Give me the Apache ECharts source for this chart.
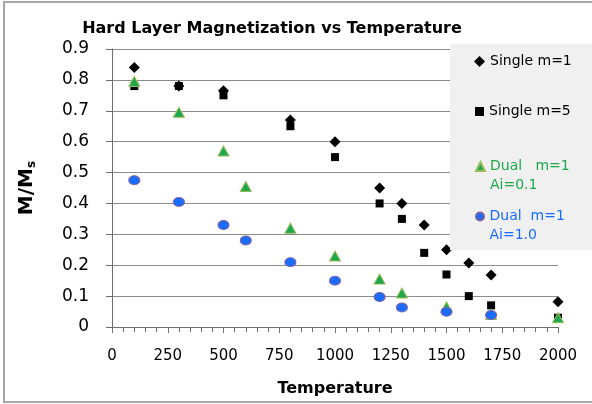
<!DOCTYPE html>
<html>
<head>
<meta charset="utf-8">
<script src="https://cdn.jsdelivr.net/npm/echarts@6/dist/echarts.min.js"></script>
<style>
html,body{margin:0;padding:0;background:#fff;}
#main{width:592px;height:404px;}
</style>
</head>
<body>
<div id="main"></div>
<script>
// 温度点
var singleTemps=[100,300,500,800,1000,1200,1300,1400,1500,1600,1700,2000];
var singleM1=[0.84,0.78,0.765,0.67,0.60,0.45,0.40,0.33,0.25,0.207,0.168,0.082];
var singleM5=[0.78,0.78,0.75,0.65,0.55,0.40,0.35,0.24,0.17,0.10,0.07,0.03];
var dualTempsA=[100,300,500,600,800,1000,1200,1300,1500,1700,2000];
var dualAi01=[0.795,0.695,0.57,0.455,0.32,0.23,0.155,0.11,0.065,0.04,0.03];
var dualTempsB=[100,300,500,600,800,1000,1200,1300,1500,1700];
var dualAi10=[0.475,0.405,0.33,0.28,0.21,0.15,0.097,0.063,0.049,0.039];
var xTicks=[0,250,500,750,1000,1250,1500,1750,2000];
var yTicks=[0,0.1,0.2,0.3,0.4,0.5,0.6,0.7,0.8,0.9];
var names=['Single m=1','Single m=5','Dual   m=1\nAi=0.1','Dual  m=1\nAi=1.0'];

function pairs(xs,ys){
	var arr=new Array();
	for(var i=0;i<xs.length;i++){
		arr.push([xs[i],ys[i]]);
	}
	return arr;
}

var font='DejaVu Sans';
var gridColor='#8c8c8c';
var axisColor='#6f6f6f';

// 两行的图例文字前面补一个空行，让图标对齐第一行
function legendText(name){
	if(name.indexOf('\n')>=0){
		return ' \n'+name;
	}
	return name;
}

var myChart=echarts.init(document.getElementById('main'));
var option={
	backgroundColor:'#fff',
	animation:false,
	title:{
		text:'Hard Layer Magnetization vs Temperature',
		left:267,
		textAlign:'center',
		top:16,
		textStyle:{fontFamily:font,fontSize:16,fontWeight:'bold',color:'#000'}
	},
	grid:{left:112,right:34,top:49,bottom:77},
	xAxis:{
		type:'value',
		min:xTicks[0],
		max:xTicks[xTicks.length-1],
		interval:250,
		name:'Temperature',
		nameLocation:'middle',
		nameGap:54,
		nameTextStyle:{fontFamily:font,fontSize:16,fontWeight:'bold',color:'#000'},
		axisLine:{show:true,onZero:false,lineStyle:{color:axisColor,width:1}},
		axisTick:{show:true,length:6,lineStyle:{color:axisColor,width:1}},
		minorTick:{show:true,splitNumber:5,length:5,lineStyle:{color:axisColor,width:1}},
		splitLine:{show:false},
		axisLabel:{fontFamily:font,fontSize:15,color:'#000',margin:22,
			formatter:function(v){return String(v);}}
	},
	yAxis:{
		type:'value',
		min:yTicks[0],
		max:yTicks[yTicks.length-1],
		interval:0.1,
		name:'{a|M/M}{b|s}',
		nameLocation:'middle',
		nameRotate:90,
		nameGap:74,
		nameTextStyle:{
			rich:{
				a:{fontFamily:font,fontSize:20,fontWeight:'bold',color:'#000'},
				b:{fontFamily:font,fontSize:12,fontWeight:'bold',color:'#000',padding:[10,0,0,0]}
			}
		},
		axisLine:{show:true,lineStyle:{color:axisColor,width:1}},
		axisTick:{show:true,length:6,lineStyle:{color:axisColor,width:1}},
		splitLine:{show:true,lineStyle:{color:gridColor,width:1}},
		axisLabel:{fontFamily:font,fontSize:17,color:'#000',margin:23,
			formatter:function(v){return String(Math.round(v*10)/10);}}
	},
	legend:[
		{data:[{name:names[0],textStyle:{color:'#000'}}],left:474,top:52,padding:0,itemWidth:11,itemHeight:11,z:5,
			textStyle:{fontFamily:font,fontSize:14,lineHeight:19}},
		{data:[{name:names[1],textStyle:{color:'#000'}}],left:475,top:102,padding:0,itemWidth:9,itemHeight:9,z:5,
			textStyle:{fontFamily:font,fontSize:14,lineHeight:19}},
		{data:[{name:names[2],textStyle:{color:'#1ea84e'}}],left:475,top:138,padding:0,itemWidth:9,itemHeight:9,z:5,
			formatter:legendText,
			textStyle:{fontFamily:font,fontSize:14,lineHeight:19}},
		{data:[{name:names[3],textStyle:{color:'#1a6cff'}}],left:475,top:188,padding:0,itemWidth:9,itemHeight:8,z:5,
			formatter:legendText,
			textStyle:{fontFamily:font,fontSize:14,lineHeight:19}}
	],
	graphic:[
		{type:'rect',z:3,shape:{x:450,y:44,width:142,height:206},style:{fill:'#f0f0f0'}},
		{type:'rect',z:1,shape:{x:4,y:2,width:600,height:400},style:{fill:'none',stroke:'#a6a6a6',lineWidth:2}}
	],
	series:[
		{
			name:names[0],
			type:'scatter',
			symbol:'diamond',
			symbolSize:[11,11],
			itemStyle:{color:'#000',opacity:1},
			data:pairs(singleTemps,singleM1)
		},
		{
			name:names[1],
			type:'scatter',
			symbol:'rect',
			symbolSize:[8,8],
			itemStyle:{color:'#000',opacity:1},
			data:pairs(singleTemps,singleM5)
		},
		{
			name:names[2],
			type:'scatter',
			symbol:'triangle',
			symbolSize:[11,10],
			itemStyle:{color:'#1ea84e',borderColor:'#9bbb59',borderWidth:1,opacity:1},
			data:pairs(dualTempsA,dualAi01)
		},
		{
			name:names[3],
			type:'scatter',
			symbol:'circle',
			symbolSize:[11,9],
			itemStyle:{color:'#1a6cff',borderColor:'#7e649e',borderWidth:1,opacity:1},
			data:pairs(dualTempsB,dualAi10)
		}
	]
};
myChart.setOption(option);
</script>
</body>
</html>
